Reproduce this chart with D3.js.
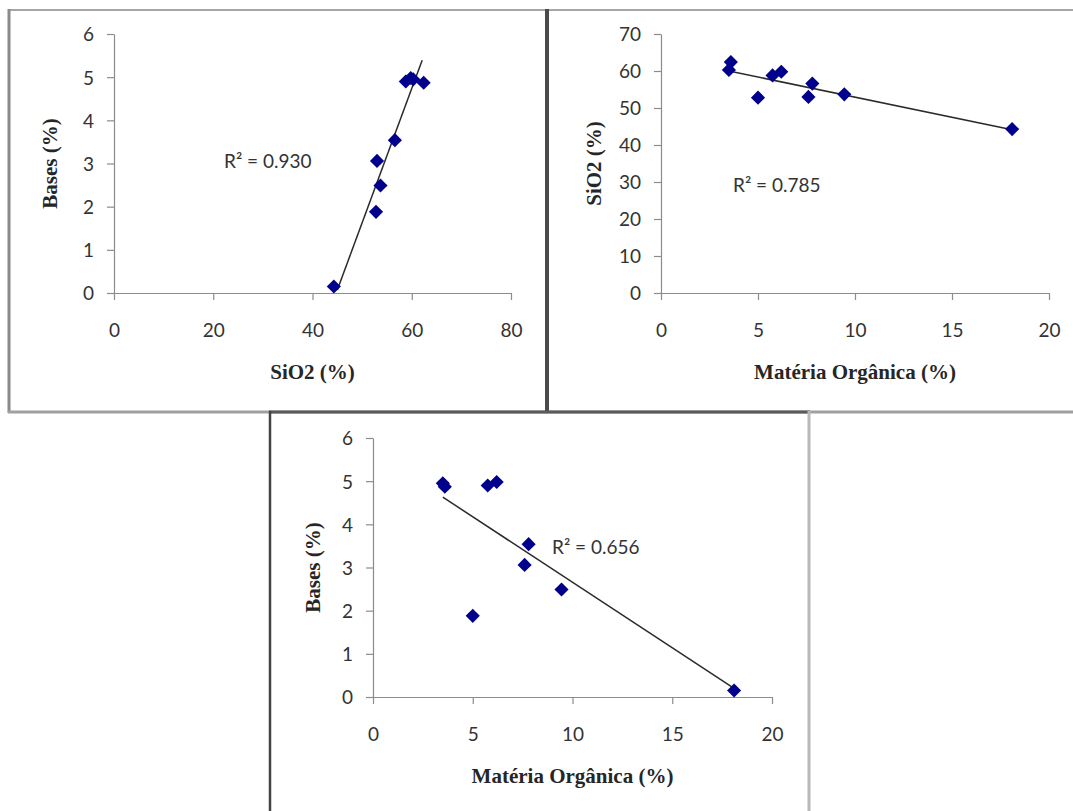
<!DOCTYPE html>
<html>
<head>
<meta charset="utf-8">
<script src="https://cdn.jsdelivr.net/npm/d3@7"></script>
<style>
  html, body { margin: 0; padding: 0; background: #ffffff; }
  svg { display: block; }
  .tick text { font-family: Lato, "Open Sans", sans-serif; font-size: 19px; fill: #333333; }
  .axis path, .axis line { stroke: #8c8c8c; stroke-width: 1.2px; }
  .title { font-family: "Liberation Serif", "DejaVu Serif", serif; font-weight: bold; font-size: 21px; fill: #262626; }
  .r2 { font-family: Lato, "Open Sans", sans-serif; font-size: 19px; fill: #333; }
</style>
</head>
<body>
<svg id="chart" width="1073" height="811"></svg>
<script>
// ---- Data ----
const materiaOrganica = [3.5, 3.6, 5.0, 5.75, 6.2, 7.6, 7.8, 9.45, 18.1];
const sio2 = [60.3, 62.4, 52.8, 58.8, 59.8, 53.0, 56.6, 53.7, 44.3];
const bases = [4.95, 4.87, 1.88, 4.90, 4.98, 3.06, 3.54, 2.49, 0.15];

// Linear trendline end points (x, y)
const trendSiO2Bases = [[45.0, 0.07], [62.1, 5.39]];
const trendMOSiO2 = [[3.5, 60.0], [18.1, 44.1]];
const trendMOBases = [[3.5, 4.63], [18.1, 0.2]];

const r2Labels = ["R\u00B2 = 0.930", "R\u00B2 = 0.785", "R\u00B2 = 0.656"];

const ticksSiO2X = [0, 20, 40, 60, 80];
const ticksBasesY = [0, 1, 2, 3, 4, 5, 6];
const ticksMOX = [0, 5, 10, 15, 20];
const ticksSiO2Y = [0, 10, 20, 30, 40, 50, 60, 70];

const titleSiO2 = "SiO2 (%)";
const titleBases = "Bases (%)";
const titleMO = "Mat\u00E9ria Org\u00E2nica (%)";

// ---- Drawing ----
const svg = d3.select("#chart");

const frames = svg.append("g");
frames.append("line").attr("x1", 8).attr("x2", 1073).attr("y1", 10).attr("y2", 10)
  .attr("stroke", "#a6a6a6").attr("stroke-width", 2);
frames.append("line").attr("x1", 9).attr("x2", 9).attr("y1", 9).attr("y2", 413)
  .attr("stroke", "#8a8a8a").attr("stroke-width", 3);
frames.append("line").attr("x1", 8).attr("x2", 1073).attr("y1", 412).attr("y2", 412)
  .attr("stroke", "#a0a0a0").attr("stroke-width", 3);
frames.append("line").attr("x1", 547).attr("x2", 547).attr("y1", 9).attr("y2", 412)
  .attr("stroke", "#4a4a4a").attr("stroke-width", 4);
frames.append("line").attr("x1", 269).attr("x2", 810).attr("y1", 412).attr("y2", 412)
  .attr("stroke", "#5a5a5a").attr("stroke-width", 3);
frames.append("line").attr("x1", 270).attr("x2", 270).attr("y1", 411).attr("y2", 811)
  .attr("stroke", "#444").attr("stroke-width", 2.5);
frames.append("line").attr("x1", 809).attr("x2", 809).attr("y1", 411).attr("y2", 811)
  .attr("stroke", "#b8b8b8").attr("stroke-width", 3);

function drawPanel(cfg) {
  const x = d3.scaleLinear().domain(cfg.xDomain).range(cfg.xRange);
  const y = d3.scaleLinear().domain(cfg.yDomain).range(cfg.yRange);
  const g = svg.append("g");

  g.append("g").attr("class", "axis")
    .attr("transform", `translate(0,${cfg.yRange[0]})`)
    .call(d3.axisBottom(x).tickValues(cfg.xTicks).tickFormat(d3.format("d"))
      .tickSize(7).tickPadding(24).tickSizeOuter(0));
  const yAxis = g.append("g").attr("class", "axis")
    .attr("transform", `translate(${cfg.xRange[0]},0)`)
    .call(d3.axisLeft(y).tickValues(cfg.yTicks).tickFormat(d3.format("d"))
      .tickSize(7).tickPadding(13).tickSizeOuter(0));
  g.selectAll(".domain").attr("stroke", "#8c8c8c");
  yAxis.selectAll("text").attr("dy", "0.36em");

  g.append("line")
    .attr("x1", x(cfg.trend[0][0])).attr("y1", y(cfg.trend[0][1]))
    .attr("x2", x(cfg.trend[1][0])).attr("y2", y(cfg.trend[1][1]))
    .attr("stroke", "#2a2a2a").attr("stroke-width", 1.5);

  const sym = d3.symbol().type(d3.symbolSquare).size(100);
  g.selectAll("path.pt").data(cfg.xs.map((v, i) => [v, cfg.ys[i]]))
    .join("path").attr("class", "pt")
    .attr("d", sym)
    .attr("transform", d => `translate(${x(d[0])},${y(d[1])}) rotate(45)`)
    .attr("fill", "#00008c");

  g.append("text").attr("class", "title")
    .attr("x", (cfg.xRange[0] + cfg.xRange[1]) / 2).attr("y", cfg.yRange[0] + 86)
    .attr("text-anchor", "middle").text(cfg.xTitle);
  const yc = (cfg.yRange[0] + cfg.yRange[1]) / 2;
  g.append("text").attr("class", "title")
    .attr("transform", `translate(${cfg.yTitleX},${yc}) rotate(-90)`)
    .attr("text-anchor", "middle").attr("dy", "0.35em").text(cfg.yTitle);

  g.append("text").attr("class", "r2")
    .attr("x", cfg.r2Pos[0]).attr("y", cfg.r2Pos[1]).attr("dy", "0.35em")
    .text(cfg.r2);
}

drawPanel({
  xDomain: [0, 80], xRange: [114, 511], yDomain: [0, 6], yRange: [293, 34],
  xTicks: ticksSiO2X, yTicks: ticksBasesY,
  xs: sio2, ys: bases, trend: trendSiO2Bases,
  xTitle: titleSiO2, yTitle: titleBases, yTitleX: 50,
  r2: r2Labels[0], r2Pos: [224, 161]
});

drawPanel({
  xDomain: [0, 20], xRange: [661, 1049], yDomain: [0, 70], yRange: [293, 34],
  xTicks: ticksMOX, yTicks: ticksSiO2Y,
  xs: materiaOrganica, ys: sio2, trend: trendMOSiO2,
  xTitle: titleMO, yTitle: titleSiO2, yTitleX: 594,
  r2: r2Labels[1], r2Pos: [733, 185]
});

drawPanel({
  xDomain: [0, 20], xRange: [373, 772], yDomain: [0, 6], yRange: [697, 438],
  xTicks: ticksMOX, yTicks: ticksBasesY,
  xs: materiaOrganica, ys: bases, trend: trendMOBases,
  xTitle: titleMO, yTitle: titleBases, yTitleX: 313,
  r2: r2Labels[2], r2Pos: [552, 547]
});
</script>
</body>
</html>
